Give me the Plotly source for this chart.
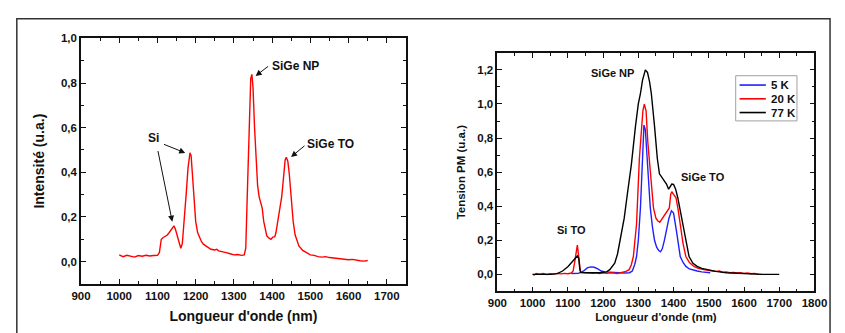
import plotly.graph_objects as go

# ---- Photoluminescence spectrum (left panel) ----
pl_wavelength = [1000, 1010, 1020, 1030, 1040, 1050, 1060, 1070, 1080, 1090, 1100, 1105,
                 1110, 1115, 1120, 1125, 1130, 1135, 1140, 1143, 1147, 1152, 1157, 1161,
                 1165, 1170, 1175, 1180, 1185, 1188, 1192, 1196, 1200, 1205, 1210, 1215,
                 1220, 1230, 1240, 1250, 1255, 1260, 1270, 1280, 1290, 1300, 1310, 1320,
                 1327, 1331, 1335, 1340, 1344, 1347, 1350, 1354, 1358, 1362, 1366, 1370,
                 1374, 1378, 1382, 1386, 1392, 1397, 1402, 1407, 1410, 1415, 1420, 1425,
                 1430, 1434, 1437, 1441, 1445, 1450, 1455, 1460, 1465, 1470, 1480, 1490,
                 1500, 1510, 1520, 1530, 1540, 1550, 1560, 1570, 1580, 1590, 1600, 1610,
                 1620, 1630, 1640, 1645, 1650]
pl_intensity = [0.030, 0.022, 0.028, 0.025, 0.020, 0.027, 0.024, 0.028, 0.025, 0.027, 0.028, 0.040,
                0.100, 0.108, 0.112, 0.118, 0.128, 0.140, 0.155, 0.160, 0.145, 0.110, 0.075, 0.060,
                0.080, 0.180, 0.300, 0.420, 0.487, 0.475, 0.380, 0.260, 0.180, 0.130, 0.105, 0.090,
                0.078, 0.065, 0.055, 0.052, 0.055, 0.048, 0.045, 0.040, 0.035, 0.030, 0.032, 0.028,
                0.030, 0.060, 0.300, 0.620, 0.820, 0.839, 0.780, 0.600, 0.460, 0.340, 0.290, 0.260,
                0.240, 0.180, 0.140, 0.115, 0.105, 0.100, 0.110, 0.112, 0.130, 0.190, 0.250, 0.290,
                0.380, 0.455, 0.468, 0.450, 0.390, 0.280, 0.180, 0.120, 0.090, 0.070, 0.050, 0.040,
                0.030, 0.028, 0.022, 0.020, 0.022, 0.018, 0.016, 0.012, 0.012, 0.010, 0.008, 0.010,
                0.006, 0.004, 0.002, 0.004, 0.005]

# ---- Temperature series (right panel) ----
wl_5k = [1110, 1130, 1145, 1155, 1165, 1175, 1185, 1195, 1205, 1220, 1240, 1260, 1275,
         1283, 1290, 1295, 1300, 1306, 1312, 1316, 1320, 1325, 1330, 1334, 1340, 1346,
         1352, 1358, 1363, 1368, 1374, 1380, 1387, 1394, 1400, 1408, 1414, 1419, 1427,
         1435, 1445, 1455, 1467, 1480, 1495, 1504]
v_5k = [0.005, 0.006, 0.020, 0.038, 0.044, 0.042, 0.032, 0.020, 0.015, 0.012, 0.010, 0.008, 0.010,
        0.020, 0.060, 0.105, 0.200, 0.390, 0.679, 0.876, 0.850, 0.679, 0.520, 0.390, 0.280, 0.200,
        0.160, 0.140, 0.133, 0.150, 0.200, 0.258, 0.330, 0.373, 0.360, 0.258, 0.170, 0.105, 0.070,
        0.047, 0.032, 0.025, 0.020, 0.015, 0.012, 0.010]

wl_20k = [1000, 1005, 1010, 1020, 1030, 1040, 1050, 1060, 1070, 1080, 1090, 1100, 1110,
          1115, 1120, 1125, 1127, 1130, 1133, 1136, 1150, 1160, 1170, 1180, 1190, 1200,
          1210, 1220, 1230, 1240, 1250, 1258, 1265, 1274, 1280, 1286, 1290, 1295, 1303,
          1309, 1313, 1317, 1322, 1327, 1334, 1343, 1350, 1355, 1361, 1368, 1375, 1383,
          1388, 1392, 1395, 1400, 1407, 1413, 1419, 1427, 1435, 1445, 1458, 1470, 1486,
          1500, 1510, 1520, 1530, 1540, 1550, 1560, 1570, 1580, 1590, 1600, 1610, 1620,
          1630, 1640, 1650]
v_20k = [0.000, -0.003, 0.005, 0.002, 0.006, 0.000, 0.004, 0.002, 0.006, 0.003, 0.006, 0.004, 0.008,
         0.020, 0.080, 0.160, 0.172, 0.120, 0.040, 0.010, 0.008, 0.010, 0.006, 0.010, 0.005, 0.010,
         0.006, 0.010, 0.008, 0.005, 0.010, 0.012, 0.018, 0.028, 0.055, 0.105, 0.180, 0.296, 0.679,
         0.870, 0.960, 0.999, 0.960, 0.775, 0.583, 0.390, 0.330, 0.315, 0.306, 0.330, 0.353, 0.380,
         0.390, 0.470, 0.485, 0.470, 0.450, 0.380, 0.296, 0.180, 0.105, 0.070, 0.047, 0.035, 0.028,
         0.022, 0.020, 0.018, 0.020, 0.012, 0.015, 0.010, 0.012, 0.008, 0.010, 0.006, 0.008, 0.004,
         0.006, 0.002, 0.000]

wl_77k = [1000, 1050, 1070, 1085, 1100, 1110, 1120, 1127, 1131, 1134, 1137, 1150, 1170,
          1190, 1210, 1219, 1233, 1241, 1249, 1260, 1270, 1280, 1292, 1300, 1306, 1312,
          1320, 1326, 1332, 1337, 1346, 1354, 1360, 1366, 1372, 1380, 1386, 1391, 1395,
          1400, 1406, 1412, 1419, 1426, 1435, 1444, 1455, 1467, 1480, 1495, 1520, 1550,
          1600, 1650, 1700]
v_77k = [0.000, 0.000, 0.005, 0.020, 0.045, 0.070, 0.095, 0.108, 0.095, 0.030, 0.012, 0.010, 0.010,
         0.010, 0.015, 0.028, 0.066, 0.120, 0.200, 0.330, 0.488, 0.640, 0.870, 1.000, 1.060, 1.140,
         1.200, 1.185, 1.130, 1.060, 0.870, 0.680, 0.590, 0.573, 0.555, 0.530, 0.500, 0.515, 0.530,
         0.528, 0.500, 0.450, 0.370, 0.296, 0.190, 0.105, 0.065, 0.047, 0.035, 0.028, 0.018, 0.010,
         0.004, 0.000, 0.000]

series_names = ["5 K", "20 K", "77 K"]
series_colors = ["#1f1fff", "#ff0000", "#000000"]

# ---- Tick labels (French decimal comma) ----
left_x_vals = [900, 1000, 1100, 1200, 1300, 1400, 1500, 1600, 1700]
right_x_vals = [900, 1000, 1100, 1200, 1300, 1400, 1500, 1600, 1700, 1800]
left_y_vals = [0.0, 0.2, 0.4, 0.6, 0.8, 1.0]
left_y_text = ["0,0", "0,2", "0,4", "0,6", "0,8", "1,0"]
right_y_vals = [0.0, 0.2, 0.4, 0.6, 0.8, 1.0, 1.2]
right_y_text = ["0,0", "0,2", "0,4", "0,6", "0,8", "1,0", "1,2"]

W, H = 845, 333
FONT = "Liberation Sans, Arial, sans-serif"
INK = "#111"


def bold(labels):
    return ["<b>%s</b>" % t for t in labels]


def px_x(p):
    return p / W


def px_y(p):
    return 1 - p / H


fig = go.Figure()

fig.add_trace(go.Scatter(x=pl_wavelength, y=pl_intensity, mode="lines",
                         line=dict(color="#ff0000", width=1.4), showlegend=False,
                         xaxis="x", yaxis="y"))

for wl, v, name, col in zip([wl_5k, wl_20k, wl_77k], [v_5k, v_20k, v_77k],
                            series_names, series_colors):
    fig.add_trace(go.Scatter(x=wl, y=v, mode="lines", name=name,
                             line=dict(color=col, width=1.4), showlegend=False,
                             xaxis="x2", yaxis="y2"))

axis_common = dict(showline=True, linecolor=INK, linewidth=1.6, mirror="allticks",
                   ticks="inside", ticklen=5, tickwidth=1.3, tickcolor=INK,
                   showgrid=False, zeroline=False, tickmode="array",
                   tickfont=dict(size=11.5, color=INK, family=FONT))
minor_x = dict(dtick=50, tick0=900, ticklen=3, ticks="inside", tickcolor=INK)
minor_y = dict(dtick=0.1, tick0=0, ticklen=3, ticks="inside", tickcolor=INK)

fig.update_layout(
    width=W, height=H,
    margin=dict(l=0, r=0, t=0, b=0),
    paper_bgcolor="white", plot_bgcolor="white",
    font=dict(family=FONT, color=INK),
    showlegend=False,
    xaxis=dict(domain=[px_x(73), px_x(407)], range=[900, 1750],
               tickvals=left_x_vals, ticktext=bold([str(v) for v in left_x_vals]),
               minor=minor_x,
               title=dict(text="<b>Longueur d'onde (nm)</b>", standoff=11,
                          font=dict(size=14, family=FONT)),
               anchor="y", **axis_common),
    yaxis=dict(domain=[px_y(283), px_y(33)], range=[-0.1, 1.0],
               tickvals=left_y_vals, ticktext=bold(left_y_text),
               minor=minor_y,
               title=dict(text="<b>Intensité (u.a.)</b>", standoff=13,
                          font=dict(size=14, family=FONT)),
               anchor="x", **axis_common),
    xaxis2=dict(domain=[px_x(501), px_x(827)], range=[900, 1800],
                tickvals=right_x_vals, ticktext=bold([str(v) for v in right_x_vals]),
                minor=minor_x,
                title=dict(text="<b>Longueur d'onde (nm)</b>", standoff=5,
                           font=dict(size=11.5, family=FONT)),
                anchor="y2", **axis_common),
    yaxis2=dict(domain=[px_y(290.7), px_y(47.7)], range=[-0.1, 1.3],
                tickvals=right_y_vals, ticktext=bold(right_y_text),
                minor=minor_y,
                title=dict(text="<b>Tension PM (u.a.)</b>", standoff=9,
                           font=dict(size=11.5, family=FONT)),
                anchor="x2", **axis_common),
)

# outer frame around both panels
fig.add_shape(type="rect", xref="paper", yref="paper",
              x0=px_x(7), x1=px_x(843), y0=-0.05, y1=px_y(13),
              line=dict(color="#333", width=1.5))

# ---- legend box for the temperature series ----
fig.add_shape(type="rect", xref="paper", yref="paper",
              x0=px_x(746), x1=px_x(809), y0=px_y(117), y1=px_y(71),
              line=dict(color="#a0a0a0", width=1), fillcolor="white", layer="above")
for i, (name, col) in enumerate(zip(series_names, series_colors)):
    yc = px_y(80.5 + 14 * i)
    fig.add_shape(type="line", xref="paper", yref="paper",
                  x0=px_x(750), x1=px_x(777), y0=yc, y1=yc,
                  line=dict(color=col, width=1.6), layer="above")
    fig.add_annotation(x=px_x(780), y=yc, xref="paper", yref="paper",
                       xanchor="left", yanchor="middle", showarrow=False,
                       text="<b>%s</b>" % name,
                       font=dict(size=11.5, family=FONT, color=INK))

# ---- left panel labels with arrows ----
label_font = dict(size=12, family=FONT, color=INK)
fig.add_annotation(x=1090, y=0.553, xref="x", yref="y", text="<b>Si</b>", showarrow=False, font=label_font)
fig.add_annotation(x=1460, y=0.875, xref="x", yref="y", text="<b>SiGe NP</b>", showarrow=False, font=label_font)
fig.add_annotation(x=1553, y=0.528, xref="x", yref="y", text="<b>SiGe TO</b>", showarrow=False, font=label_font)

arrows = [
    ((1100.5, 0.502), (1138.7, 0.179)),
    ((1113.2, 0.528), (1172.6, 0.487)),
    ((1393.5, 0.880), (1356.8, 0.832)),
    ((1488.5, 0.524), (1449.5, 0.469)),
]
for (tx, ty), (hx, hy) in arrows:
    fig.add_annotation(x=hx, y=hy, ax=tx, ay=ty, xref="x", yref="y", axref="x", ayref="y",
                       text="", showarrow=True, arrowhead=2, arrowsize=1.2, arrowwidth=1,
                       arrowcolor=INK)

# ---- right panel labels ----
label_font2 = dict(size=11, family=FONT, color=INK)
fig.add_annotation(x=1228, y=1.18, xref="x2", yref="y2", text="<b>SiGe NP</b>", showarrow=False, font=label_font2)
fig.add_annotation(x=1485, y=0.574, xref="x2", yref="y2", text="<b>SiGe TO</b>", showarrow=False, font=label_font2)
fig.add_annotation(x=1111, y=0.262, xref="x2", yref="y2", text="<b>Si TO</b>", showarrow=False, font=label_font2)

fig.write_html("out.html")
